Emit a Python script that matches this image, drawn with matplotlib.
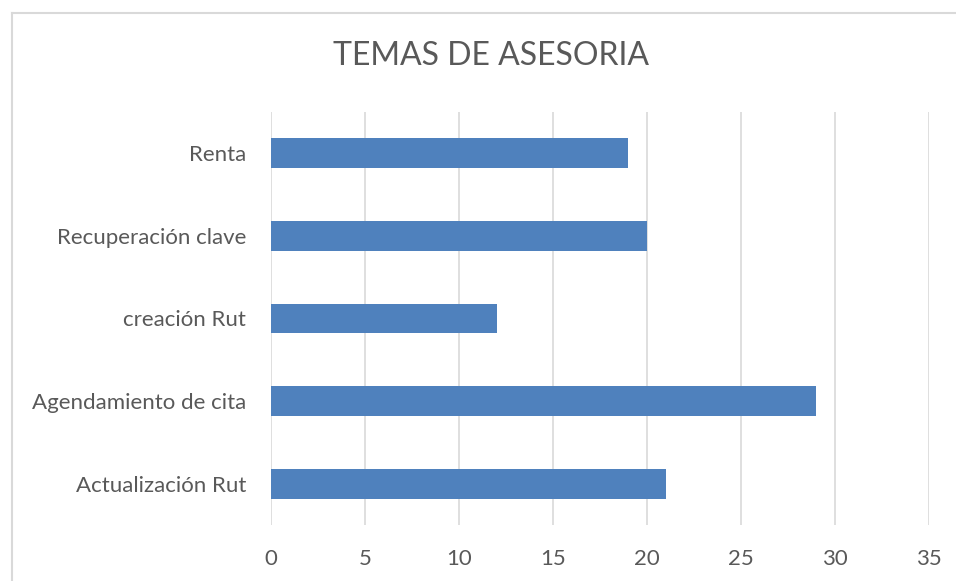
import matplotlib.pyplot as plt
from matplotlib.lines import Line2D

temas = ["Actualización Rut", "Agendamiento de cita", "creación Rut", "Recuperación clave", "Renta"]
cantidad = [21, 29, 12, 20, 19]
ticks_x = [0, 5, 10, 15, 20, 25, 30, 35]

plt.rcParams['font.family'] = ['Lato', 'DejaVu Sans']

fig = plt.figure(figsize=(9.56, 5.81), dpi=100)
ax = fig.add_axes([271/956, 1 - 525/581, (929 - 271)/956, (525 - 112)/581])

ax.barh(temas, cantidad, height=0.36, color="#4F81BD", zorder=3)
ax.set_xlim(0, 35)
ax.set_ylim(-0.5, len(temas) - 0.5)
ax.set_xticks(ticks_x)
ax.grid(axis="x", color="#d9d9d9", linewidth=1.2, zorder=0)
for s in ax.spines.values():
    s.set_visible(False)
ax.tick_params(axis="both", length=0, labelsize=16, labelcolor="#595959")
ax.tick_params(axis="x", pad=17)
ax.tick_params(axis="y", pad=18)

fig.text(491/956, 1 - 56/581, "TEMAS DE ASESORIA", ha="center", va="center",
         fontsize=23, color="#595959")

# borde gris del gráfico (solo arriba e izquierda, el resto queda cortado)
x0, y0 = 11.5/956, 1 - 12.5/581
fig.add_artist(Line2D([x0, 1], [y0, y0], transform=fig.transFigure,
                      color="#d9d9d9", linewidth=1.5))
fig.add_artist(Line2D([x0, x0], [0, y0], transform=fig.transFigure,
                      color="#d9d9d9", linewidth=1.5))

fig.savefig("out.png", dpi=100)
